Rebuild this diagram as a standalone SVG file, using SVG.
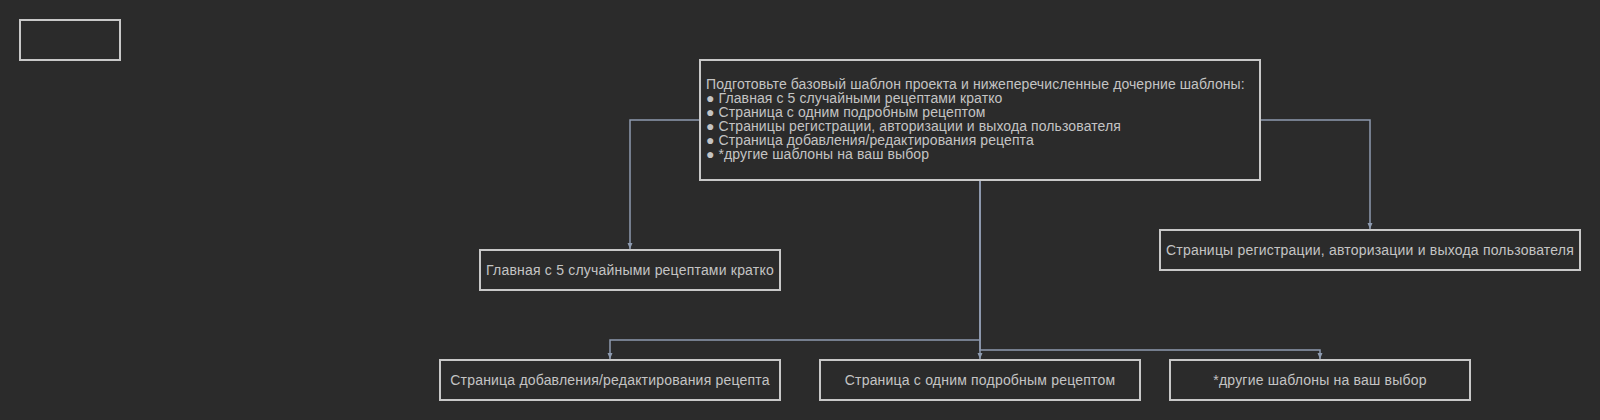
<svg xmlns="http://www.w3.org/2000/svg" width="1600" height="420" viewBox="0 0 1600 420">
  <style>
    .node { fill: #2b2b2b; stroke: #c8c8c8; stroke-width: 2; }
    .lbl { font-family: "Liberation Sans", Arial, sans-serif; font-size: 14px; fill: #c4c4c4; letter-spacing: 0.2px; }
    .multi { letter-spacing: 0.1px; }
    .mid { text-anchor: middle; }
    .edge { fill: none; stroke: #8e9bb0; stroke-width: 1.5; }
  </style>
  <defs>
    <marker id="arr" markerUnits="userSpaceOnUse" markerWidth="6" markerHeight="6" refX="6" refY="3" orient="auto">
      <path d="M0,0.5 L6,3 L0,5.5 z" fill="#8e9bb0"/>
    </marker>
  </defs>
  <rect width="1600" height="420" fill="#2b2b2b"/>

  <g id="connectors">
    <path class="edge" d="M700,120 H630 V249" marker-end="url(#arr)"/>
    <path class="edge" d="M1260,120 H1370 V229" marker-end="url(#arr)"/>
    <path class="edge" d="M980,180 V359" marker-end="url(#arr)"/>
    <path class="edge" d="M980,180 V340 H610 V359" marker-end="url(#arr)"/>
    <path class="edge" d="M980,180 V350 H1320 V359" marker-end="url(#arr)"/>
  </g>

  <g id="legend">
    <rect class="node" x="20" y="20" width="100" height="40"/>
  </g>

  <g id="main">
    <rect class="node" x="700" y="60" width="560" height="120"/>
    <text class="lbl multi" x="706" y="89">Подготовьте базовый шаблон проекта и нижеперечисленные дочерние шаблоны:</text>
    <text class="lbl multi" x="706" y="103">● Главная с 5 случайными рецептами кратко</text>
    <text class="lbl multi" x="706" y="117">● Страница с одним подробным рецептом</text>
    <text class="lbl multi" x="706" y="131">● Страницы регистрации, авторизации и выхода пользователя</text>
    <text class="lbl multi" x="706" y="145">● Страница добавления/редактирования рецепта</text>
    <text class="lbl multi" x="706" y="159">● *другие шаблоны на ваш выбор</text>
  </g>

  <g id="home">
    <rect class="node" x="480" y="250" width="300" height="40"/>
    <text class="lbl mid" x="630" y="275">Главная с 5 случайными рецептами кратко</text>
  </g>

  <g id="auth">
    <rect class="node" x="1160" y="230" width="420" height="40"/>
    <text class="lbl mid" x="1370" y="255">Страницы регистрации, авторизации и выхода пользователя</text>
  </g>

  <g id="edit">
    <rect class="node" x="440" y="360" width="340" height="40"/>
    <text class="lbl mid" x="610" y="385">Страница добавления/редактирования рецепта</text>
  </g>

  <g id="detail">
    <rect class="node" x="820" y="360" width="320" height="40"/>
    <text class="lbl mid" x="980" y="385">Страница с одним подробным рецептом</text>
  </g>

  <g id="other">
    <rect class="node" x="1170" y="360" width="300" height="40"/>
    <text class="lbl mid" x="1320" y="385">*другие шаблоны на ваш выбор</text>
  </g>
</svg>
